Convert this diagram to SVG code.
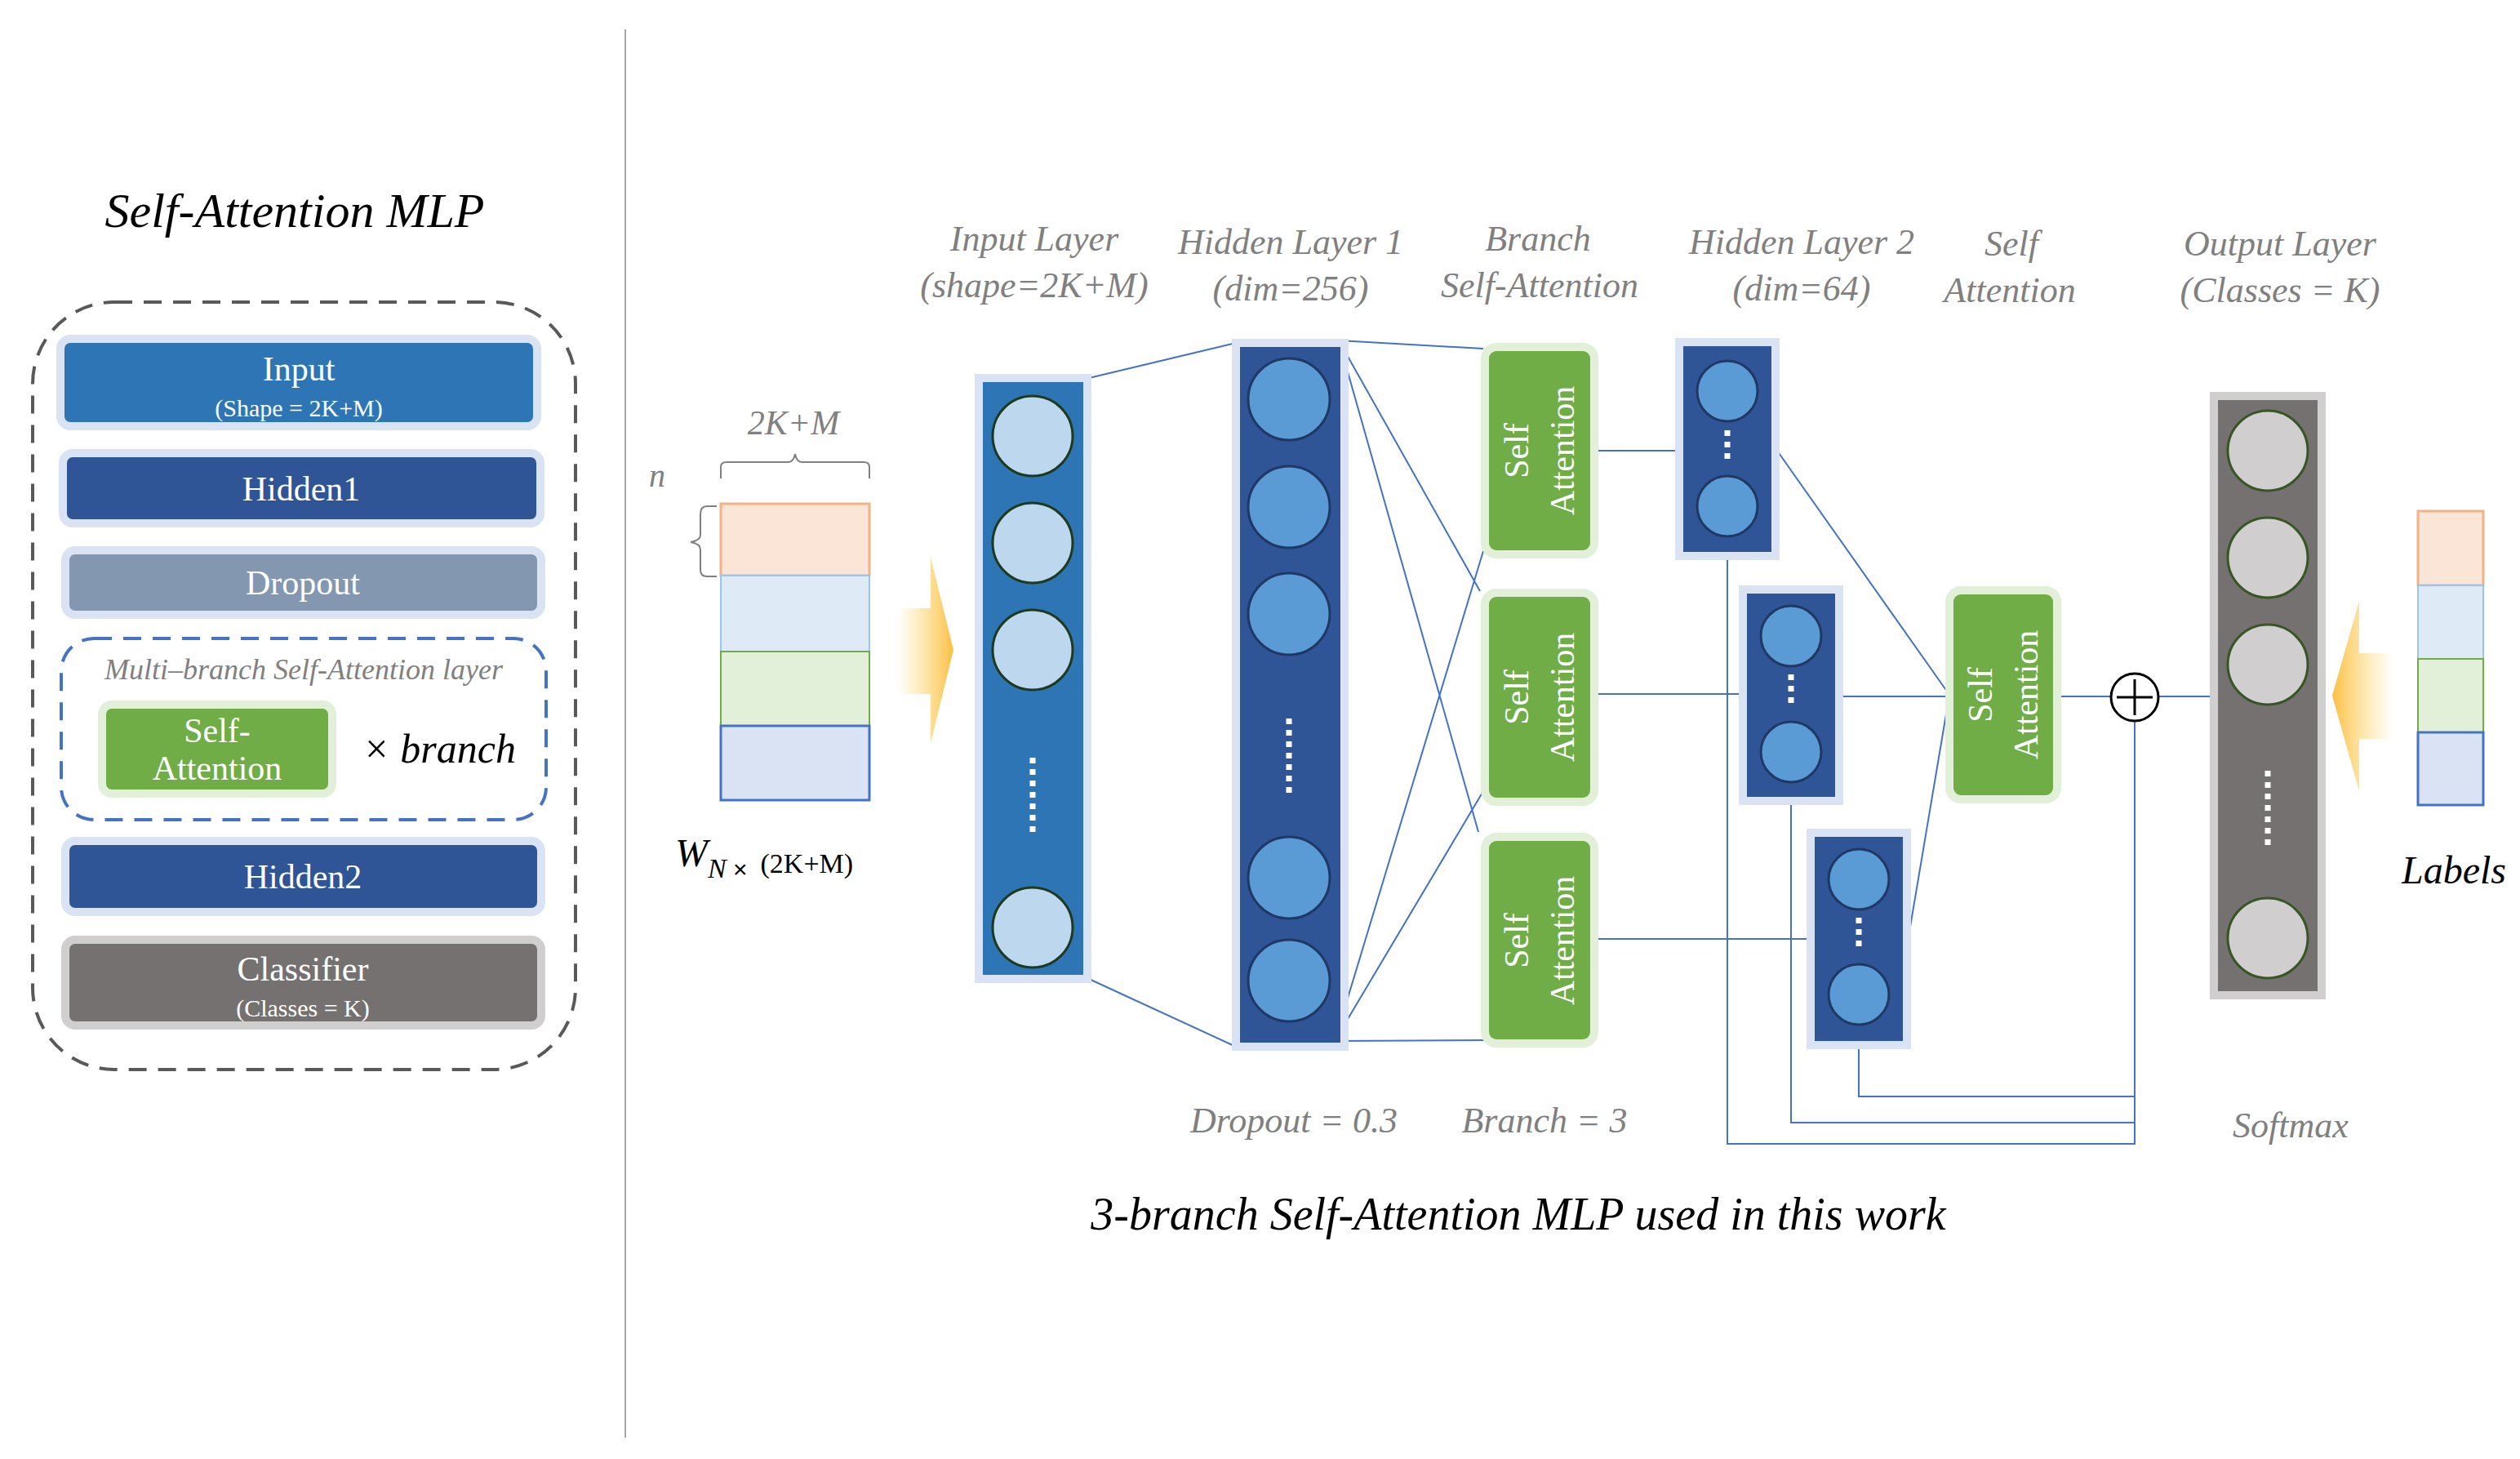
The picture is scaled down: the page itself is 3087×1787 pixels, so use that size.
<svg xmlns="http://www.w3.org/2000/svg" width="3087" height="1787" viewBox="0 0 3087 1787">
<style>
.hd{font-family:"Liberation Serif",serif;font-style:italic;font-size:44px;fill:#808080;text-anchor:middle}
.bx{font-family:"Liberation Serif",serif;font-size:42px;fill:#fff;text-anchor:middle}
.sm{font-family:"Liberation Serif",serif;font-size:30px;fill:#fff;text-anchor:middle}
.sa{font-family:"Liberation Serif",serif;font-size:42px;fill:#fff;text-anchor:middle}
.ln{stroke:#4472c4;stroke-width:2;fill:none}
.c1{fill:#bdd7ee;stroke:#1e3a1e;stroke-width:3}
.c2{fill:#5b9bd5;stroke:#1f3864;stroke-width:3}
.c3{fill:#d0cece;stroke:#375623;stroke-width:3}
.dot{stroke:#fff;stroke-width:7;stroke-dasharray:7 7}
.gb{fill:#70ad47;stroke:#e2efd9;stroke-width:10}
</style>
<defs>
<linearGradient id="gr" x1="0" x2="1" y1="0" y2="0"><stop offset="0" stop-color="#ffd966" stop-opacity="0"/><stop offset="1" stop-color="#fbbf45"/></linearGradient>
<linearGradient id="gl" x1="1" x2="0" y1="0" y2="0"><stop offset="0" stop-color="#ffd966" stop-opacity="0"/><stop offset="1" stop-color="#fbbf45"/></linearGradient>
</defs>
<rect width="3087" height="1787" fill="#fff"/>
<line x1="766" y1="36" x2="766" y2="1761" stroke="#a6a6a6" stroke-width="2"/>

<g id="left-panel">
<text x="361" y="278" font-family="Liberation Serif,serif" font-style="italic" font-size="60" text-anchor="middle" fill="#000">Self-Attention MLP</text>
<rect x="40" y="370" width="665" height="940" rx="100" fill="none" stroke="#595959" stroke-width="4" stroke-dasharray="22 14"/>
<g id="n-input"><rect x="74" y="415" width="584" height="107" rx="12" fill="#2e75b6" stroke="#dae3f3" stroke-width="10"/><text class="bx" x="366" y="466">Input</text><text class="sm" x="366" y="510">(Shape = 2K+M)</text></g>
<g id="n-hidden1"><rect x="77" y="555" width="585" height="86" rx="12" fill="#2f5597" stroke="#dae3f3" stroke-width="10"/><text class="bx" x="369" y="613">Hidden1</text></g>
<g id="n-dropout"><rect x="80" y="674" width="583" height="79" rx="12" fill="#8497b0" stroke="#dae3f3" stroke-width="10"/><text class="bx" x="371" y="728">Dropout</text></g>
<g id="n-multi"><rect x="75" y="782" width="594" height="222" rx="40" fill="none" stroke="#4472c4" stroke-width="4" stroke-dasharray="22 14"/>
<text x="372" y="832" font-family="Liberation Serif,serif" font-style="italic" font-size="36" fill="#808080" text-anchor="middle">Multi–branch Self-Attention layer</text>
<rect class="gb" x="125" y="863" width="282" height="109" rx="12"/><text class="bx" x="266" y="909">Self-</text><text class="bx" x="266" y="955">Attention</text>
<text x="538" y="934" font-family="Liberation Serif,serif" font-style="italic" font-size="50" fill="#000" text-anchor="middle">× branch</text></g>
<g id="n-hidden2"><rect x="80" y="1030" width="583" height="87" rx="12" fill="#2f5597" stroke="#dae3f3" stroke-width="10"/><text class="bx" x="371" y="1088">Hidden2</text></g>
<g id="n-classifier"><rect x="80" y="1151" width="583" height="105" rx="12" fill="#767171" stroke="#d0cece" stroke-width="10"/><text class="bx" x="371" y="1201">Classifier</text><text class="sm" x="371" y="1245">(Classes = K)</text></g>
</g>

<g id="headers">
<text class="hd" x="1267" y="307">Input Layer</text><text class="hd" x="1267" y="364">(shape=2K+M)</text>
<text class="hd" x="1581" y="311">Hidden Layer 1</text><text class="hd" x="1581" y="368">(dim=256)</text>
<text class="hd" x="1884" y="307">Branch</text><text class="hd" x="1886" y="364">Self-Attention</text>
<text class="hd" x="2207" y="311">Hidden Layer 2</text><text class="hd" x="2207" y="368">(dim=64)</text>
<text class="hd" x="2464" y="313">Self</text><text class="hd" x="2462" y="370">Attention</text>
<text class="hd" x="2793" y="313">Output Layer</text><text class="hd" x="2793" y="370">(Classes = K)</text>
<text class="hd" x="1585" y="1387">Dropout = 0.3</text>
<text class="hd" x="1892" y="1387">Branch = 3</text>
<text class="hd" x="2806" y="1393">Softmax</text>
<text x="1860" y="1506" font-family="Liberation Serif,serif" font-style="italic" font-size="56" fill="#000" text-anchor="middle">3-branch Self-Attention MLP used in this work</text>
</g>

<g id="matrix">
<text x="972" y="532" font-family="Liberation Serif,serif" font-style="italic" font-size="42" fill="#808080" text-anchor="middle">2K+M</text>
<path d="M883 586 V572 Q883 566 890 566 H966 Q972 566 974 556 Q976 566 982 566 H1058 Q1065 566 1065 572 V586" fill="none" stroke="#808080" stroke-width="2"/>
<text x="805" y="596" font-family="Liberation Serif,serif" font-style="italic" font-size="40" fill="#808080" text-anchor="middle">n</text>
<path d="M878 620 H866 Q858 620 858 630 V655 Q858 662 846 664 Q858 666 858 673 V698 Q858 706 866 706 H878" fill="none" stroke="#808080" stroke-width="2"/>
<rect x="883" y="617" width="182" height="88" fill="#fbe5d6" stroke="#f4b183" stroke-width="3"/>
<rect x="883" y="705" width="182" height="93" fill="#deebf7" stroke="#9dc3e6" stroke-width="2"/>
<rect x="883" y="798" width="182" height="91" fill="#e2f0d9" stroke="#70ad47" stroke-width="2"/>
<rect x="883" y="889" width="182" height="91" fill="#dae3f3" stroke="#4472c4" stroke-width="3"/>
<text x="827" y="1061" font-family="Liberation Serif,serif" font-style="italic" font-size="48" fill="#000">W<tspan font-size="34" dy="14">N</tspan><tspan font-style="normal" font-family="Liberation Sans,sans-serif" font-size="30"> ×</tspan><tspan font-style="normal" font-size="34" dy="-6" dx="16">(2K+M)</tspan></text>
<path d="M1098 745 H1140 V683 L1168 796 L1140 910 V850 H1098 Z" fill="url(#gr)"/>
</g>

<g id="connectors">
<path class="ln" d="M1334 463 L1514 420 M1334 1199 L1514 1282"/>
<path class="ln" d="M1640 417 L1817 427 M1640 417 L1813 724 M1640 417 L1811 1019 M1635 1275 L1817 1274 M1635 1275 L1817 969 M1635 1275 L1817 675"/>
<path class="ln" d="M1953 552 H2052 M1953 850 H2130 M1953 1150 H2213"/>
<path class="ln" d="M2177 552 L2388 851 M2258 853 H2388 M2337 1153 L2388 851"/>
<path class="ln" d="M2523 853 H2586 M2644 853 H2707"/>
<path class="ln" d="M2116 685 V1401 H2615 V883 M2194 985 V1375 H2615 M2277 1284 V1343 H2615"/>
</g>

<g id="input-layer">
<rect x="1199" y="463" width="133" height="736" fill="#2e75b6" stroke="#dae3f3" stroke-width="10"/>
<circle class="c1" cx="1265" cy="534" r="49"/><circle class="c1" cx="1265" cy="665" r="49"/><circle class="c1" cx="1265" cy="796" r="49"/><circle class="c1" cx="1265" cy="1136" r="49"/>
<line class="dot" x1="1265" y1="928" x2="1265" y2="1020"/>
</g>
<g id="hidden-layer-1">
<rect x="1514" y="420" width="133" height="862" fill="#2f5597" stroke="#dae3f3" stroke-width="10"/>
<circle class="c2" cx="1579" cy="489" r="50"/><circle class="c2" cx="1579" cy="621" r="50"/><circle class="c2" cx="1579" cy="752" r="50"/><circle class="c2" cx="1579" cy="1075" r="50"/><circle class="c2" cx="1579" cy="1201" r="50"/>
<line class="dot" x1="1579" y1="880" x2="1579" y2="972"/>
</g>
<g id="sa-1"><rect class="gb" x="1819" y="425" width="134" height="254" rx="14"/><g transform="translate(1886 552) rotate(-90)"><text class="sa" x="0" y="-14">Self</text><text class="sa" x="0" y="42">Attention</text></g></g>
<g id="sa-2"><rect class="gb" x="1819" y="726" width="134" height="256" rx="14"/><g transform="translate(1886 854) rotate(-90)"><text class="sa" x="0" y="-14">Self</text><text class="sa" x="0" y="42">Attention</text></g></g>
<g id="sa-3"><rect class="gb" x="1819" y="1025" width="134" height="253" rx="14"/><g transform="translate(1886 1152) rotate(-90)"><text class="sa" x="0" y="-14">Self</text><text class="sa" x="0" y="42">Attention</text></g></g>

<g id="h2-a"><rect x="2057" y="419" width="118" height="262" fill="#2f5597" stroke="#dae3f3" stroke-width="10"/><circle class="c2" cx="2116" cy="479" r="37"/><circle class="c2" cx="2116" cy="620" r="37"/><line class="dot" x1="2116" y1="527" x2="2116" y2="569"/></g>
<g id="h2-b"><rect x="2135" y="722" width="118" height="259" fill="#2f5597" stroke="#dae3f3" stroke-width="10"/><circle class="c2" cx="2194" cy="779" r="37"/><circle class="c2" cx="2194" cy="921" r="37"/><line class="dot" x1="2194" y1="826" x2="2194" y2="868"/></g>
<g id="h2-c"><rect x="2218" y="1020" width="118" height="260" fill="#2f5597" stroke="#dae3f3" stroke-width="10"/><circle class="c2" cx="2277" cy="1077" r="37"/><circle class="c2" cx="2277" cy="1218" r="37"/><line class="dot" x1="2277" y1="1124" x2="2277" y2="1166"/></g>

<g id="sa-final"><rect class="gb" x="2388" y="723" width="132" height="256" rx="14"/><g transform="translate(2454 851) rotate(-90)"><text class="sa" x="0" y="-14">Self</text><text class="sa" x="0" y="42">Attention</text></g></g>
<g id="plus"><circle cx="2615" cy="854" r="29" fill="#fff" stroke="#000" stroke-width="3"/><path d="M2593 854 H2637 M2615 832 V876" stroke="#000" stroke-width="3"/></g>

<g id="output-layer">
<rect x="2712" y="485" width="132" height="734" fill="#767171" stroke="#d0cece" stroke-width="10"/>
<circle class="c3" cx="2778" cy="552" r="49"/><circle class="c3" cx="2778" cy="683" r="49"/><circle class="c3" cx="2778" cy="814" r="49"/><circle class="c3" cx="2778" cy="1149" r="49"/>
<line class="dot" x1="2778" y1="944" x2="2778" y2="1040"/>
</g>
<g id="labels">
<path d="M2932 800 H2890 V736 L2857 852 L2890 969 V905 H2932 Z" fill="url(#gl)"/>
<rect x="2962" y="626" width="80" height="91" fill="#fbe5d6" stroke="#f4b183" stroke-width="3"/>
<rect x="2962" y="717" width="80" height="90" fill="#deebf7" stroke="#9dc3e6" stroke-width="2"/>
<rect x="2962" y="807" width="80" height="90" fill="#e2f0d9" stroke="#70ad47" stroke-width="2"/>
<rect x="2962" y="897" width="80" height="89" fill="#dae3f3" stroke="#4472c4" stroke-width="3"/>
<text x="3006" y="1082" font-family="Liberation Serif,serif" font-style="italic" font-size="48" fill="#000" text-anchor="middle">Labels</text>
</g>
</svg>
